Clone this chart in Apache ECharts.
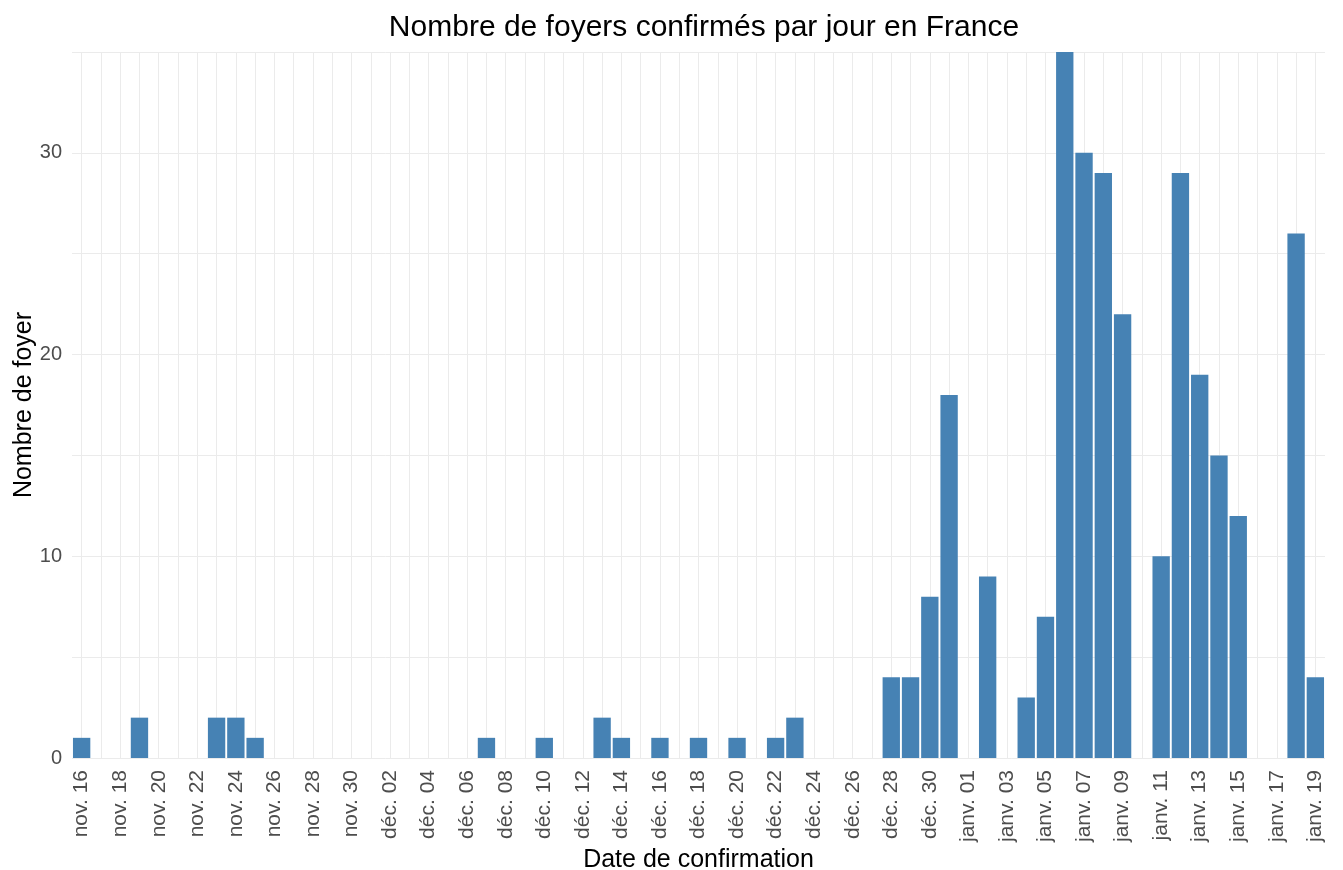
<!DOCTYPE html>
<html>
<head>
<meta charset="utf-8">
<script src="https://cdn.jsdelivr.net/npm/echarts@6/dist/echarts.min.js"></script>
<style>html,body{margin:0;padding:0;background:#fff}#c{width:1343px;height:870px}</style>
</head>
<body>
<div id="c"></div>
<script>
const categories = [
  'nov. 16','nov. 17','nov. 18','nov. 19','nov. 20','nov. 21','nov. 22','nov. 23','nov. 24','nov. 25',
  'nov. 26','nov. 27','nov. 28','nov. 29','nov. 30',
  'déc. 01','déc. 02','déc. 03','déc. 04','déc. 05','déc. 06','déc. 07','déc. 08','déc. 09','déc. 10',
  'déc. 11','déc. 12','déc. 13','déc. 14','déc. 15','déc. 16','déc. 17','déc. 18','déc. 19','déc. 20',
  'déc. 21','déc. 22','déc. 23','déc. 24','déc. 25','déc. 26','déc. 27','déc. 28','déc. 29','déc. 30','déc. 31',
  'janv. 01','janv. 02','janv. 03','janv. 04','janv. 05','janv. 06','janv. 07','janv. 08','janv. 09','janv. 10',
  'janv. 11','janv. 12','janv. 13','janv. 14','janv. 15','janv. 16','janv. 17','janv. 18','janv. 19'
];
const foyers = [
  1,0,0,2,0,0,0,2,2,1,
  0,0,0,0,0,
  0,0,0,0,0,0,1,0,0,1,
  0,0,2,1,0,1,0,1,0,1,
  0,1,2,0,0,0,0,4,4,8,18,
  0,9,0,3,7,35,30,29,22,0,
  10,29,19,15,12,0,0,26,4
];
const yTicks = [0, 10, 20, 30];
const titleText = 'Nombre de foyers confirmés par jour en France';
const xTitle = 'Date de confirmation';
const yTitle = 'Nombre de foyer';

const FONT = 'Liberation Sans, Arial, sans-serif';
const chart = echarts.init(document.getElementById('c'), null, {renderer: 'canvas'});
chart.setOption({
  backgroundColor: '#ffffff',
  animation: false,
  title: {
    text: titleText,
    left: 699, top: 8, textAlign: 'center',
    textStyle: {fontFamily: FONT, fontSize: 30, fontWeight: 'normal', color: '#000'}
  },
  grid: {left: 72, right: 18, top: 52, bottom: 112, containLabel: false, outerBoundsMode: 'none'},
  xAxis: {
    type: 'category',
    data: categories,
    boundaryGap: true,
    name: xTitle,
    nameLocation: 'middle',
    nameGap: 90,
    nameMoveOverlap: false,
    nameTextStyle: {fontFamily: FONT, fontSize: 25, color: '#000'},
    axisLine: {show: false},
    axisTick: {show: false},
    axisLabel: {
      interval: 1, rotate: 90, margin: 12,
      fontFamily: FONT, fontSize: 21, color: '#4d4d4d'
    },
    splitLine: {show: true, interval: 0, alignWithLabel: true, lineStyle: {color: '#ebebeb', width: 1}}
  },
  yAxis: {
    type: 'value',
    min: 0, max: 35, interval: 5,
    name: yTitle,
    nameLocation: 'middle',
    nameGap: 35,
    nameMoveOverlap: false,
    nameTextStyle: {fontFamily: FONT, fontSize: 25, color: '#000'},
    axisLine: {show: false},
    axisTick: {show: false},
    axisLabel: {
      margin: 10,
      fontFamily: FONT, fontSize: 20, color: '#4d4d4d',
      formatter: v => yTicks.includes(v) ? String(v) : ''
    },
    splitLine: {show: true, lineStyle: {color: '#ebebeb', width: 1}}
  },
  series: [{
    type: 'bar',
    data: foyers,
    barCategoryGap: '10%',
    itemStyle: {color: '#4682b4'}
  }]
});
</script>
</body>
</html>
